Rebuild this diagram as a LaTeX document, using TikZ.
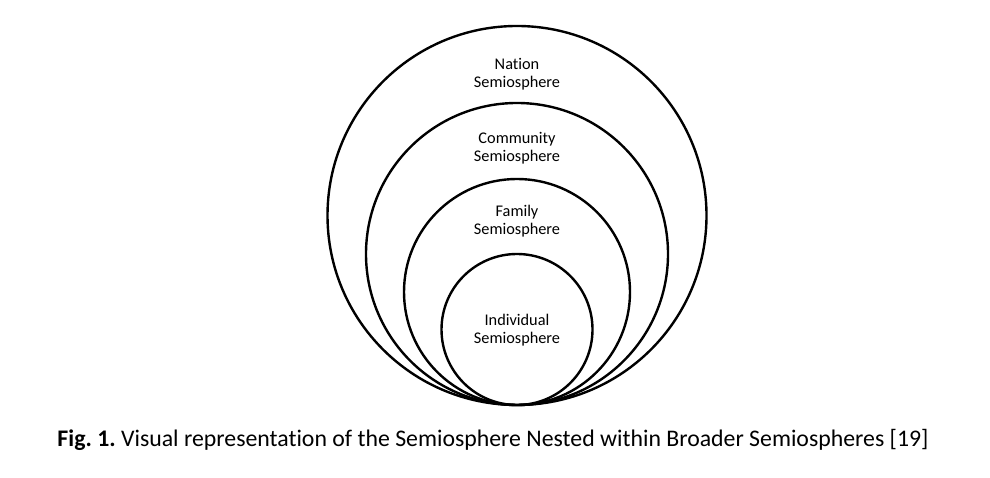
\documentclass[tikz,border=0pt]{standalone}
\usepackage{fontspec}
\setmainfont{Carlito}[Ligatures=NoCommon]
\usetikzlibrary{positioning}
\newcommand{\sphere}[2]
{
	\node[sphere, minimum size=2*#2pt] (#1) at (517, 73+#2) {}
}
\frenchspacing

\begin{document}
\begin{tikzpicture}[x=1pt, y=1pt,
	sphere/.style={shape=circle, draw=black, line width=2.4pt, inner sep=0pt},
	spherelabel/.style={align=center, font=\fontsize{16.3}{18}\selectfont}]
	\useasboundingbox (0,0) rectangle (990,478);

	\sphere{N}{189.5};
	\sphere{C}{151};
	\sphere{F}{113};
	\sphere{I}{75.5};
	\node[spherelabel] at (517, 404) (NL){Nation\\Semiosphere};
	\node[spherelabel] at (517, 330) (CL){Community\\Semiosphere};
	\node[spherelabel] at (517, 256.5) (FL){Family\\Semiosphere};
	\node[spherelabel] at (517, 147.5) (IL){Individual\\Semiosphere};
	\node[font=\fontsize{23.8}{28}\selectfont] at (493, 38) (caption){\textbf{Fig. 1.} Visual representation of the Semiosphere Nested within Broader Semiospheres [19]};
\end{tikzpicture}
\end{document}
